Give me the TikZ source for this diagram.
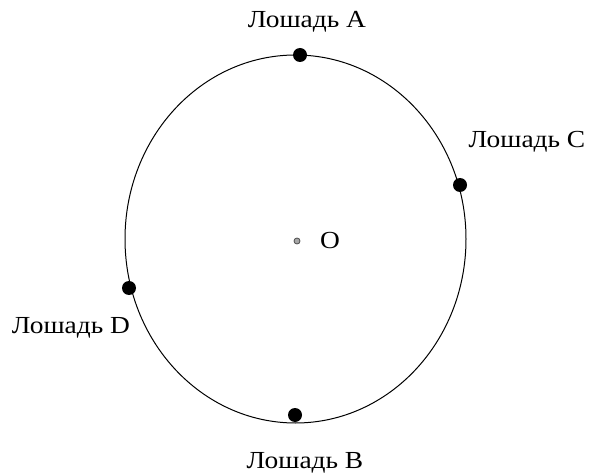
\documentclass[tikz,border=0pt]{standalone}
\usepackage{fontspec}
\setmainfont{Liberation Serif}
\usetikzlibrary{positioning}

\tikzset{
  horse/.style={circle, fill=black, inner sep=0pt, minimum size=14pt},
  centre/.style={circle, draw=black!70, fill=black!35, line width=0.8pt, inner sep=0pt, minimum size=6pt},
  horselabel/.style={inner sep=0pt, xscale=1.12, transform shape, font=\fontsize{24.5}{28}\selectfont}
}

\begin{document}
\begin{tikzpicture}[x=1pt, y=-1pt]
    \useasboundingbox (0,0) rectangle (589,473);
    \draw[line width=1pt] (295.5,239) ellipse [x radius=170.5, y radius=184]; % Pista
    \node[horse] (A) at (300,55) {};
    \node[horse] (B) at (295,415) {};
    \node[horse] (C) at (460,185) {};
    \node[horse] (D) at (129,288) {};
    \node[centre] (O) at (297,241) {};
    \node[horselabel] (lA) at (307,22) {Лошадь A};
    \node[horselabel] (lB) at (305,463) {Лошадь B};
    \node[horselabel] (lC) at (527,142) {Лошадь C};
    \node[horselabel] (lD) at (71,328) {Лошадь D};
    \node[horselabel] (lO) at (330,241) {O};
\end{tikzpicture}
\end{document}
